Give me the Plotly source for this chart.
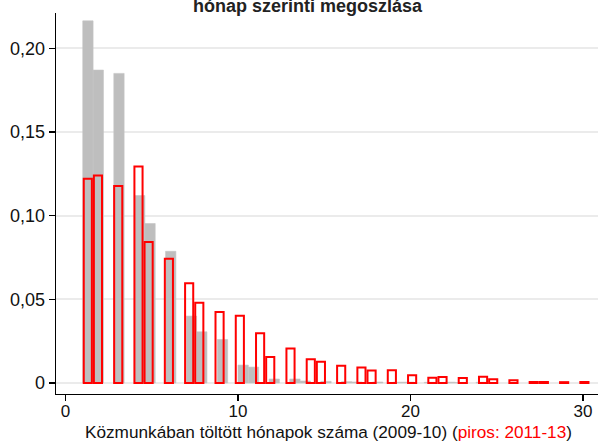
import math
import plotly.graph_objects as go

# ---- data (fraction of participants by number of months in public works) ----
months_2009_10 = list(range(1, 25))
share_2009_10 = [0.2164, 0.1870, 0.1850, 0.1120, 0.0953, 0.0787, 0.0400, 0.0306,
                 0.0260, 0.0107, 0.0095, 0.0024, 0.0024, 0.0012, 0.0010, 0.0008,
                 0.0006, 0.0006, 0.0005, 0.0005, 0.0004, 0.0005, 0.0003, 0.0004]

months_2011_13 = list(range(1, 32))
share_2011_13 = [0.1220, 0.1240, 0.1177, 0.1294, 0.0842, 0.0743, 0.0596, 0.0480,
                 0.0424, 0.0402, 0.0298, 0.0156, 0.0206, 0.0142, 0.0127, 0.0103,
                 0.0092, 0.0074, 0.0076, 0.0047, 0.0032, 0.0036, 0.0030, 0.0038,
                 0.0022, 0.0016, 0.0006, 0.0006, 0.0005, 0.0006, 0.0005]

y_tickvals = [0, 0.05, 0.10, 0.15, 0.20]
y_ticktext = ["0", "0,05", "0,10", "0,15", "0,20"]
x_tickvals = [0, 10, 20, 30]
x_ticktext = ["0", "10", "20", "30"]

# histogram bin settings (start, width) for each period
BIN_START = 1.0
BIN_W_GREY = 0.6
BIN_W_RED = 0.5875


def bin_left(m, w):
    return BIN_START + math.floor((m - BIN_START) / w + 1e-9) * w


FONT = "Liberation Sans, Arial, sans-serif"
RED_LW = 2.0
PX_PER_UNIT = 17.25

grey_x = [bin_left(m, BIN_W_GREY) + BIN_W_GREY / 2 for m in months_2009_10]
red_x = [bin_left(m, BIN_W_RED) + BIN_W_RED / 2 for m in months_2011_13]

fig = go.Figure()
fig.add_trace(go.Bar(
    x=grey_x, y=share_2009_10, width=BIN_W_GREY,
    marker=dict(color="#bebebe", line=dict(color="#c4c4c4", width=0.6)),
    name="2009-10", showlegend=False, hoverinfo="skip",
))
fig.add_trace(go.Bar(
    x=red_x, y=share_2011_13, width=BIN_W_RED - RED_LW / PX_PER_UNIT,
    marker=dict(color="rgba(0,0,0,0)", line=dict(color="#ff0000", width=RED_LW)),
    name="2011-13", showlegend=False, hoverinfo="skip",
))

W, H = 598, 442
ML, MR, MT, MB = 56, 0, 13, 48
plot_h = H - MT - MB
plot_w = W - ML - MR


def px_to_paper_x(px):
    return (px - ML) / plot_w


def px_to_paper_y(py):
    return (H - MB - py) / plot_h


fig.update_layout(
    template="none",
    width=W, height=H, autosize=False,
    margin=dict(l=ML, r=MR, t=MT, b=MB, pad=0),
    paper_bgcolor="white", plot_bgcolor="white",
    barmode="overlay",
    font=dict(family=FONT, size=18, color="#111111"),
    xaxis=dict(
        automargin=False,
        range=[(ML - 65.5) / PX_PER_UNIT, (ML - 65.5) / PX_PER_UNIT + plot_w / PX_PER_UNIT],
        tickvals=x_tickvals, ticktext=x_ticktext,
        showgrid=False, zeroline=False,
        showline=True, linecolor="black", linewidth=1.3,
        ticks="outside", ticklen=6, tickwidth=1.3, tickcolor="black",
        ticklabelstandoff=-5,
        tickfont=dict(family=FONT, size=17, color="#111111"),
    ),
    yaxis=dict(
        automargin=False,
        range=[-(H - MB - 383) / 1673.5, (383 - MT) / 1673.5],
        tickvals=y_tickvals, ticktext=y_ticktext,
        showgrid=True, gridcolor="#ebebeb", gridwidth=2,
        zeroline=False,
        showline=True, linecolor="black", linewidth=1.3,
        ticks="outside", ticklen=6, tickwidth=1.3, tickcolor="black",
        tickfont=dict(family=FONT, size=18, color="#111111"),
    ),
    annotations=[
        dict(text="<b>hónap szerinti megoszlása</b>", xref="paper", yref="paper",
             x=px_to_paper_x(308), y=px_to_paper_y(5.5), xanchor="center", yanchor="middle",
             showarrow=False, font=dict(family=FONT, size=18, color="#222222")),
        dict(text="Közmunkában töltött hónapok száma (2009-10) (<span style='color:#ff0000'>piros: 2011-13</span>)",
             xref="paper", yref="paper",
             x=px_to_paper_x(328), y=px_to_paper_y(431.5), xanchor="center", yanchor="middle",
             showarrow=False, font=dict(family=FONT, size=17.2, color="#111111")),
    ],
)

fig.write_html(
    "out.html",
    config={"displayModeBar": False, "staticPlot": True},
    post_script="document.body.style.margin='0';document.body.style.padding='0';",
)
